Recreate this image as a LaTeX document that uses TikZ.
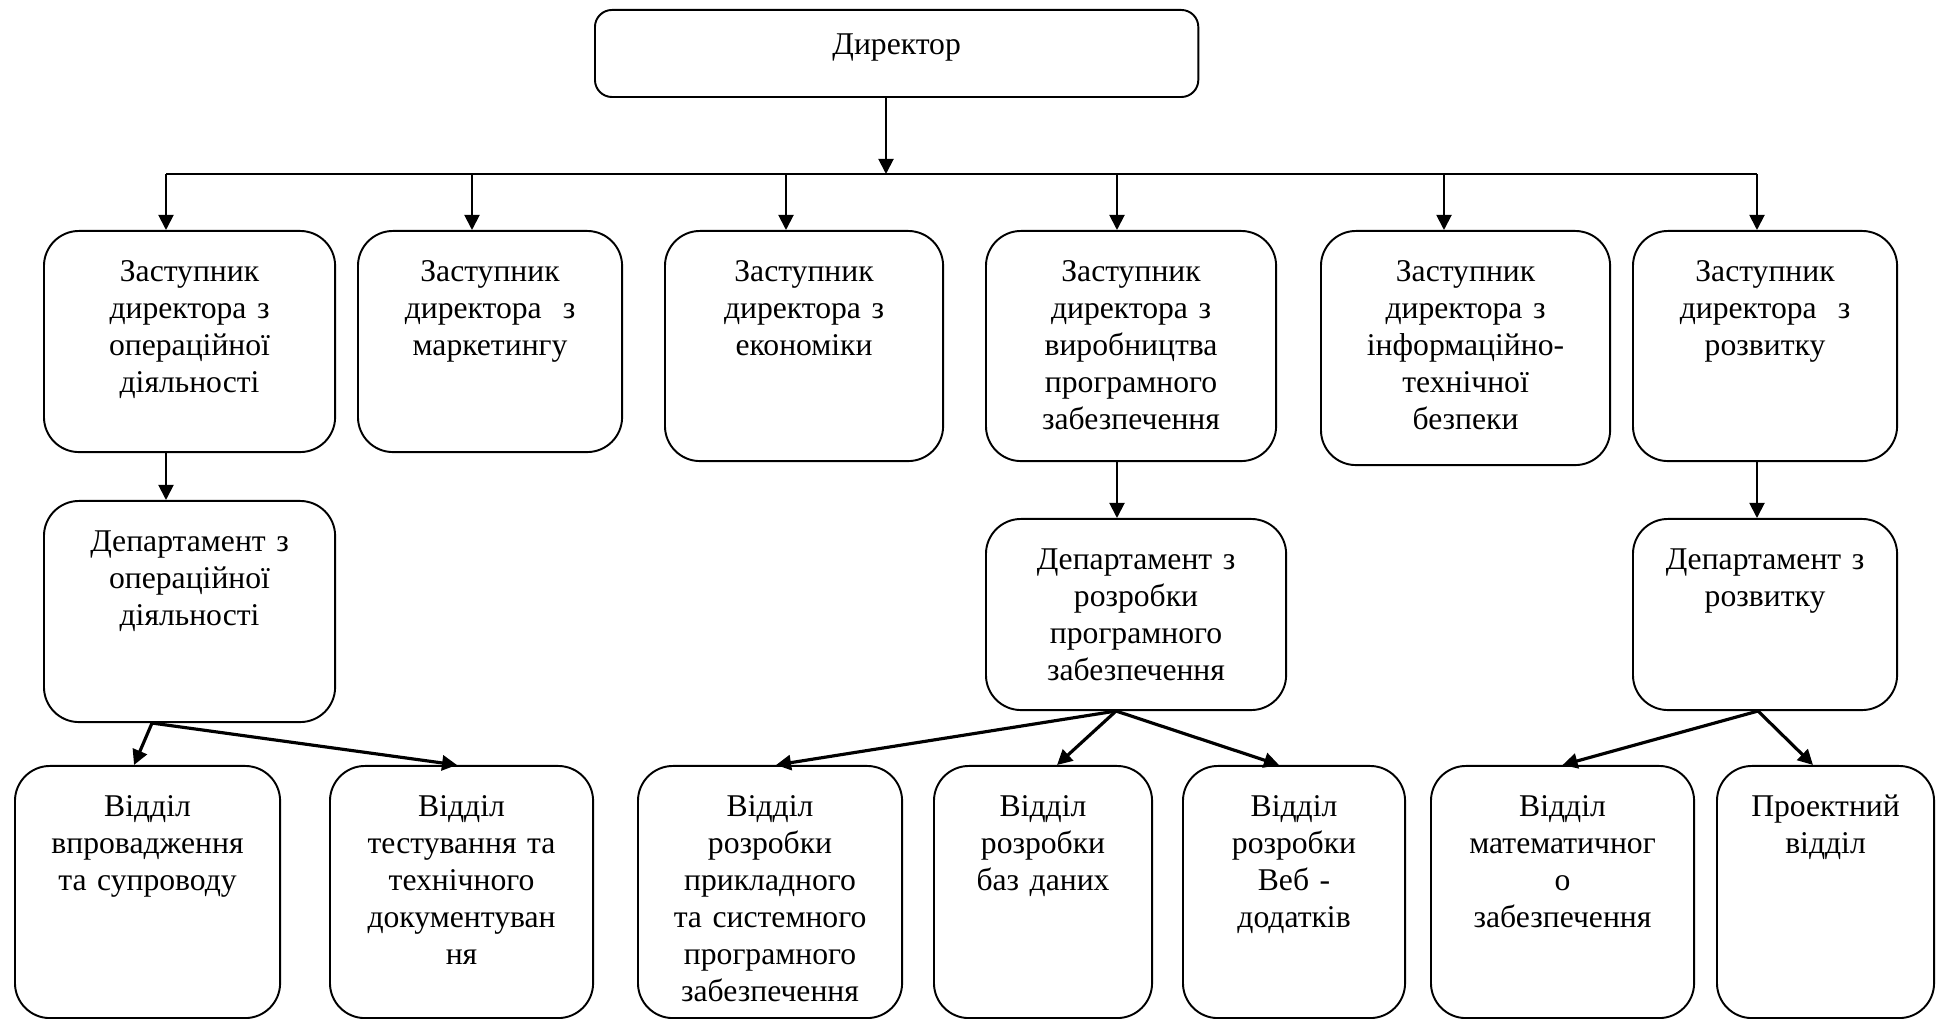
\documentclass[tikz,border=0pt]{standalone}
\usepackage{fontspec}
\setmainfont{Liberation Serif}
\usetikzlibrary{arrows.meta}

\tikzset{
    org/.style={draw, line width=0.55pt, rounded corners=0.35cm, inner sep=0,
        anchor=north west, align=center, text height=0.51cm,
        font=\fontsize{9}{10.5}\selectfont},
    fork/.style={line width=0.55pt},
    thin link/.style={line width=0.55pt, -{Triangle[length=1.5mm,width=1.5mm]}},
    bold link/.style={line width=0.9pt, -{Triangle[length=1.5mm,width=1.5mm]}}
    }

\begin{document}
\begin{tikzpicture}[x=0.01cm, y=-0.01cm]
    \useasboundingbox (0,0) rectangle (1953,1019);

    \node(dir)[org, rounded corners=0.17cm, text width=6.03cm, text height=0.45cm, text depth=0.42cm] at (594,9) {Директор};

    \node(z1)[org, text width=2.91cm, text depth=1.70cm] at (43,230) {Заступник\\директора з\\операційної\\діяльності};
    \node(z2)[org, text width=2.64cm, text depth=1.70cm] at (357,230) {Заступник\\директора~ з\\маркетингу};
    \node(z3)[org, text width=2.78cm, text depth=1.79cm] at (664,230) {Заступник\\директора з\\економіки};
    \node(z4)[org, text width=2.90cm, text depth=1.79cm] at (985,230) {Заступник\\директора з\\виробництва\\програмного\\забезпечення};
    \node(z5)[org, text width=2.89cm, text depth=1.83cm] at (1320,230) {Заступник\\директора з\\інформаційно-\\технічної\\безпеки};
    \node(z6)[org, text width=2.64cm, text depth=1.79cm] at (1632,230) {Заступник\\директора~ з\\розвитку};

    \node(o1)[org, text width=2.91cm, text depth=1.70cm] at (43,500) {Департамент з\\операційної\\діяльності};
    \node(o2)[org, text width=3.00cm, text depth=1.40cm] at (985,518) {Департамент з\\розробки\\програмного\\забезпечення};
    \node(o3)[org, text width=2.64cm, text depth=1.40cm] at (1632,518) {Департамент з\\розвитку};

    \node(u1)[org, text width=2.65cm, text depth=2.01cm] at (14,765) {Відділ\\впровадження\\та супроводу};
    \node(u2)[org, text width=2.63cm, text depth=2.01cm] at (329,765) {Відділ\\тестування та\\технічного\\документуван\\ня};
    \node(u3)[org, text width=2.64cm, text depth=2.01cm] at (637,765) {Відділ\\розробки\\прикладного\\та системного\\програмного\\забезпечення};
    \node(u4)[org, text width=2.18cm, text depth=2.01cm] at (933,765) {Відділ\\розробки\\баз даних};
    \node(u5)[org, text width=2.22cm, text depth=2.01cm] at (1182,765) {Відділ\\розробки\\Веб -\\додатків};
    \node(u6)[org, text width=2.63cm, text depth=2.01cm] at (1430,765) {Відділ\\математичног\\о\\забезпечення};
    \node(u7)[org, text width=2.17cm, text depth=2.01cm] at (1716,765) {Проектний\\відділ};

    \coordinate(b0) at (886,174);
    \coordinate(b1) at (166,174);
    \coordinate(b2) at (472,174);
    \coordinate(b3) at (786,174);
    \coordinate(b4) at (1117,174);
    \coordinate(b5) at (1444,174);
    \coordinate(b6) at (1757,174);

    \draw[fork] (b1) -- (b6);
    \draw[thin link] (b0 |- dir.south) -- (b0);
    \draw[thin link] (b1) -- (b1 |- z1.north);
    \draw[thin link] (b2) -- (b2 |- z2.north);
    \draw[thin link] (b3) -- (b3 |- z3.north);
    \draw[thin link] (b4) -- (b4 |- z4.north);
    \draw[thin link] (b5) -- (b5 |- z5.north);
    \draw[thin link] (b6) -- (b6 |- z6.north);

    \draw[thin link] (b1 |- z1.south) -- (b1 |- o1.north);
    \draw[thin link] (b4 |- z4.south) -- (b4 |- o2.north);
    \draw[thin link] (b6 |- z6.south) -- (b6 |- o3.north);

    \draw[bold link] ([xshift=-0.375cm]o1.south) -- ([xshift=-0.135cm]u1.north);
    \draw[bold link] ([xshift=-0.375cm]o1.south) -- ([xshift=-0.045cm]u2.north);
    \draw[bold link] ([xshift=-0.20cm]o2.south) -- ([xshift=0.06cm]u3.north);
    \draw[bold link] ([xshift=-0.20cm]o2.south) -- ([xshift=0.14cm]u4.north);
    \draw[bold link] ([xshift=-0.20cm]o2.south) -- ([xshift=-0.15cm]u5.north);
    \draw[bold link] ([xshift=-0.07cm]o3.south) -- (u6.north);
    \draw[bold link] ([xshift=-0.07cm]o3.south) -- ([xshift=-0.125cm]u7.north);
\end{tikzpicture}
\end{document}
